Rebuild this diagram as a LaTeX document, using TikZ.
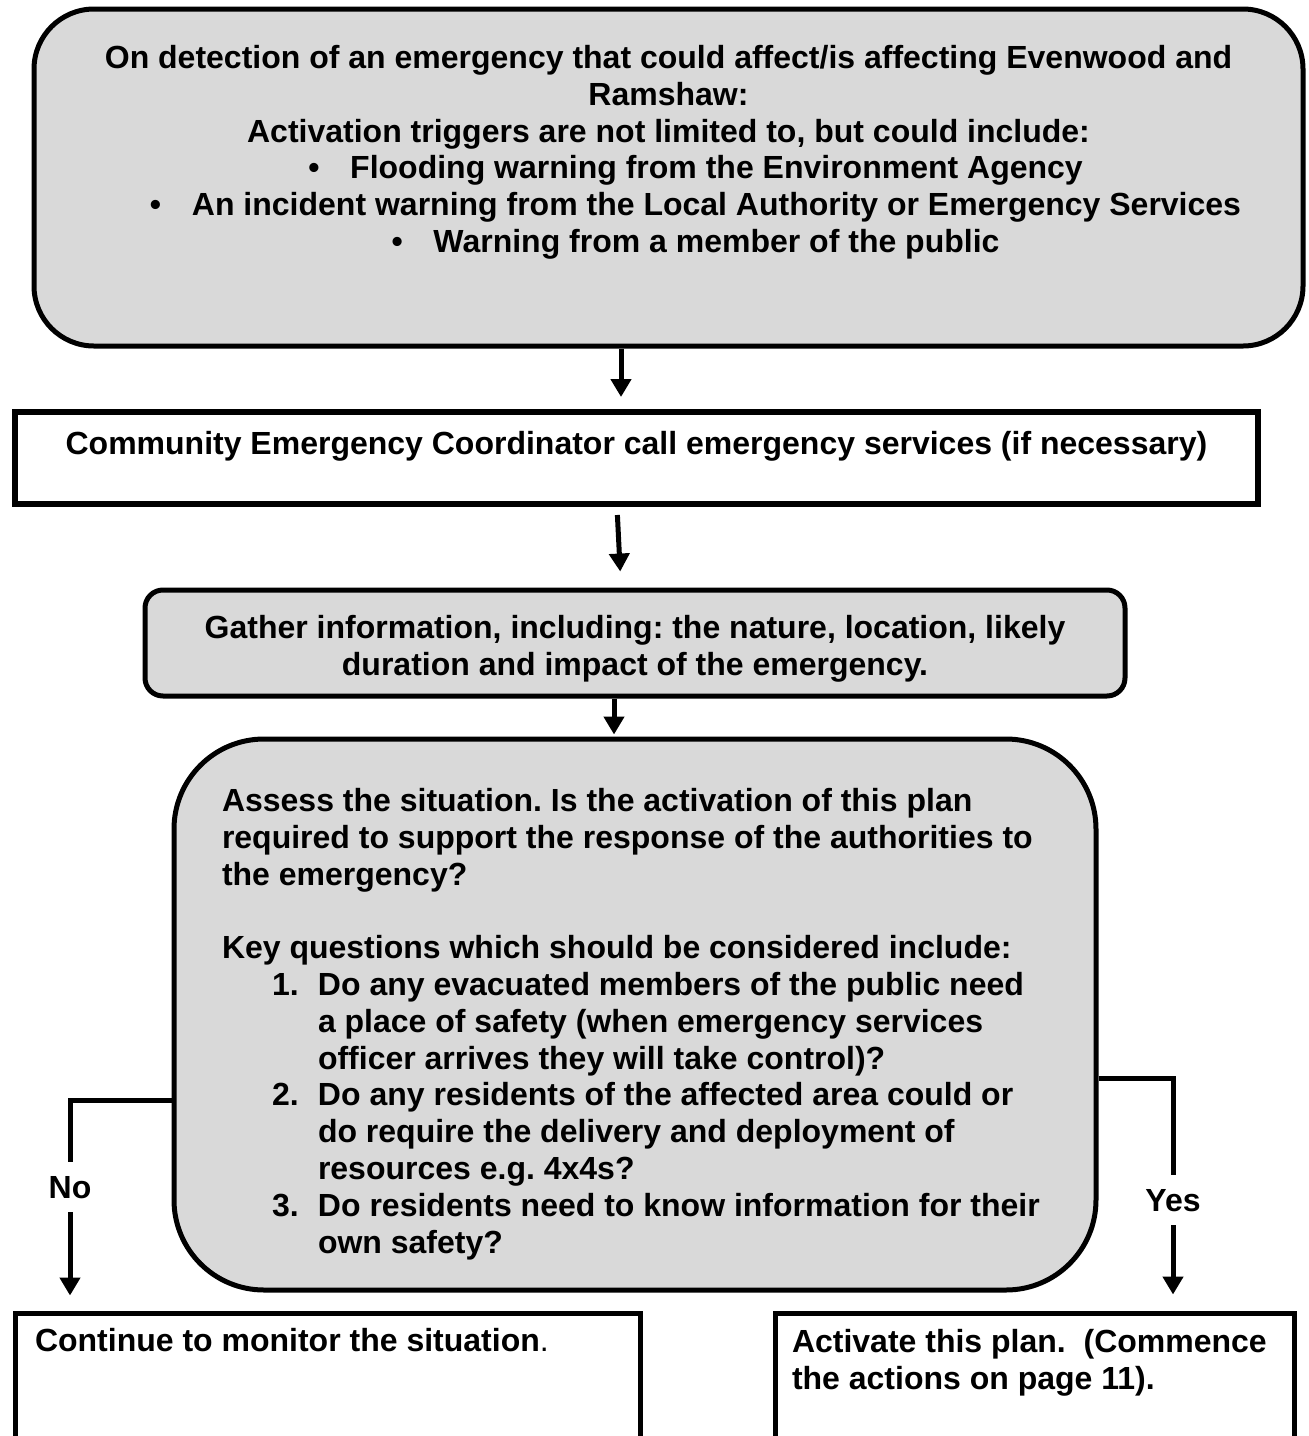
\documentclass[tikz,border=0pt]{standalone}
\usepackage{fontspec}
\setmainfont{Liberation Sans}
\usetikzlibrary{arrows.meta}
\frenchspacing

\definecolor{boxgray}{RGB}{217,217,217}

% text block of fixed size, set from the top
\newcommand{\boxtext}[4]{\parbox[c][#2][t]{#1}{\vspace*{#3}#4}}

\tikzset{
  box/.style={draw, line width=2.5pt, inner sep=0pt,
    font={\fontsize{16pt}{18.4pt}\selectfont\bfseries}},
  grayround/.style={box, fill=boxgray, rounded corners=#1},
  whitebox/.style={box, fill=white},
  flow/.style={line width=2.5pt, -{Triangle[width=10pt,length=9pt]}},
  answer/.style={fill=white, inner xsep=2pt, inner ysep=7pt,
    font={\fontsize{16pt}{18.4pt}\selectfont\bfseries}}
}

\begin{document}
\begin{tikzpicture}[x=0.5pt,y=-0.5pt]
  % Page size
  \useasboundingbox (0,0) rectangle (1309,1436);
  \clip (0,0) rectangle (1309,1436);

  % Draw boxes
  \node[grayround=30pt] (alert) at (668.5,177.5)
    {\boxtext{634.5pt}{168.5pt}{16.9pt}{\centering\strut
      On detection of an emergency that could affect/is affecting Evenwood and\\
      Ramshaw:\\
      Activation triggers are not limited to, but could include:\\
      \hspace*{27pt}\makebox[21pt][l]{\textbullet}Flooding warning from the Environment Agency\\
      \hspace*{27pt}\makebox[21pt][l]{\textbullet}An incident warning from the Local Authority or Emergency Services\\
      \hspace*{27pt}\makebox[21pt][l]{\textbullet}Warning from a member of the public}};
  \node[whitebox, line width=3pt] (call) at (636.5,458)
    {\boxtext{621.5pt}{46pt}{8.4pt}{\centering\strut
      Community Emergency Coordinator call emergency services (if necessary)}};
  \node[grayround=9pt] (gather) at (635,643)
    {\boxtext{490pt}{53pt}{11.4pt}{\centering\strut
      Gather information, including: the nature, location, likely\\
      duration and impact of the emergency.}};
  \node[grayround=45pt] (assess) at (635,1014.5)
    {\boxtext{461pt}{275.5pt}{23.4pt}{\raggedright\leftskip=24pt\strut
      Assess the situation. Is the activation of this plan\\
      required to support the response of the authorities to\\
      the emergency?\\[18.4pt]
      Key questions which should be considered include:\\
      \hspace*{25pt}\makebox[23pt][l]{1.}Do any evacuated members of the public need\\
      \hspace*{48pt}a place of safety (when emergency services\\
      \hspace*{48pt}officer arrives they will take control)?\\
      \hspace*{25pt}\makebox[23pt][l]{2.}Do any residents of the affected area could or\\
      \hspace*{48pt}do require the delivery and deployment of\\
      \hspace*{48pt}resources e.g. 4x4s?\\
      \hspace*{25pt}\makebox[23pt][l]{3.}Do residents need to know information for their\\
      \hspace*{48pt}own safety?}};
  \node[whitebox] (monitor) at (327.5,1431.5)
    {\boxtext{312.5pt}{118.5pt}{6.4pt}{\raggedright\leftskip=10pt\strut
      Continue to monitor the situation{\mdseries .}}};
  \node[whitebox] (activate) at (1034.5,1431.5)
    {\boxtext{259.5pt}{118.5pt}{6.9pt}{\raggedright\leftskip=8.5pt\strut
      Activate this plan.\ \ (Commence\\
      the actions on page 11).}};

  % Draw arrows
  \draw[flow, shorten >=6pt] ([xshift=-23.75pt]alert.south) -- ([xshift=-7.75pt]call.north);
  \draw[flow, shorten <=4pt, shorten >=8pt] ([xshift=-9.75pt]call.south) -- ([xshift=-7pt]gather.north);
  \draw[flow, shorten >=1pt] ([xshift=-10.5pt]gather.south) -- ([xshift=-10.5pt]assess.north);

  % Draw No and Yes branches
  \draw[flow, shorten >=7.5pt] ([yshift=-42.75pt]assess.west)
    -| node[answer, pos=0.707] (no) {No} ([xshift=-128.75pt]monitor.north);
  \draw[flow, shorten >=8pt] ([yshift=-31.75pt]assess.east)
    -| node[answer, pos=0.763] (yes) {Yes} ([xshift=69.25pt]activate.north);
\end{tikzpicture}
\end{document}
